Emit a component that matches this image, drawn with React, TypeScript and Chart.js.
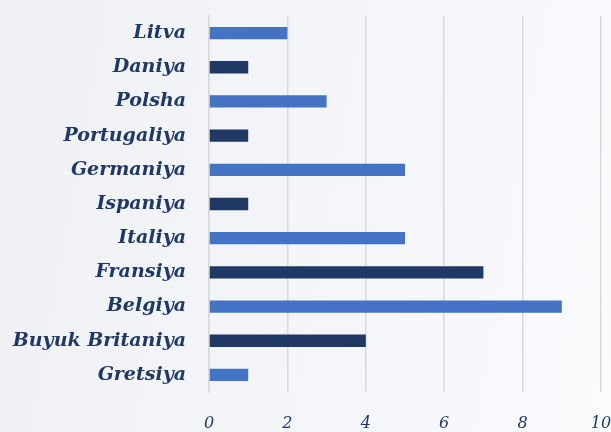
import React, { useEffect, useRef } from "react";
import { Chart, registerables } from "chart.js";

Chart.register(...registerables);

const categories = [
  "Litva",
  "Daniya",
  "Polsha",
  "Portugaliya",
  "Germaniya",
  "Ispaniya",
  "Italiya",
  "Fransiya",
  "Belgiya",
  "Buyuk Britaniya",
  "Gretsiya",
];
const values = [2, 1, 3, 1, 5, 1, 5, 7, 9, 4, 1];
const barColors = [
  "#4472C4",
  "#1F3864",
  "#4472C4",
  "#1F3864",
  "#4472C4",
  "#1F3864",
  "#4472C4",
  "#1F3864",
  "#4472C4",
  "#1F3864",
  "#4472C4",
];

export default function App() {
  const ref = useRef<HTMLCanvasElement>(null);
  useEffect(() => {
    document.body.style.margin = "0";
    const chart = new Chart(ref.current!, {
      type: "bar",
      data: {
        labels: categories,
        datasets: [
          {
            data: values,
            backgroundColor: barColors,
            barPercentage: 0.36,
            categoryPercentage: 1,
          },
        ],
      },
      options: {
        indexAxis: "y",
        animation: false,
        responsive: false,
        layout: { padding: { top: 16, right: 10, bottom: 0, left: 0 } },
        plugins: { legend: { display: false }, tooltip: { enabled: false } },
        scales: {
          x: {
            min: 0,
            max: 10,
            afterFit: (s: any) => {
              s.height = 40;
              s.paddingLeft = 0;
              s.paddingRight = 0;
            },
            ticks: {
              stepSize: 2,
              color: "#1F3864",
              padding: 22,
              font: { family: "'DejaVu Serif', serif", size: 16, style: "italic" },
            },
            grid: { color: "#d9d9d9", lineWidth: 1.5, drawTicks: false },
            border: { display: false },
          },
          y: {
            afterFit: (s: any) => {
              s.width = 209;
              s.paddingTop = 0;
              s.paddingBottom = 0;
            },
            ticks: {
              color: "#1F3864",
              padding: 23,
              font: { family: "'DejaVu Serif', serif", size: 19, style: "italic", weight: "bold" },
            },
            grid: { display: false, drawTicks: false },
            border: { display: true, color: "#d9d9d9", width: 1.5 },
          },
        },
      },
    });
    return () => chart.destroy();
  }, []);
  return (
    <div
      style={{
        position: "absolute",
        left: 0,
        top: 0,
        width: 611,
        height: 432,
        background:
          "linear-gradient(100deg, #eef0f3 0%, #f2f4f7 40%, #f5f7fa 70%, #fafbfd 100%)",
      }}
    >
      <canvas ref={ref} width={611} height={432} />
    </div>
  );
}
